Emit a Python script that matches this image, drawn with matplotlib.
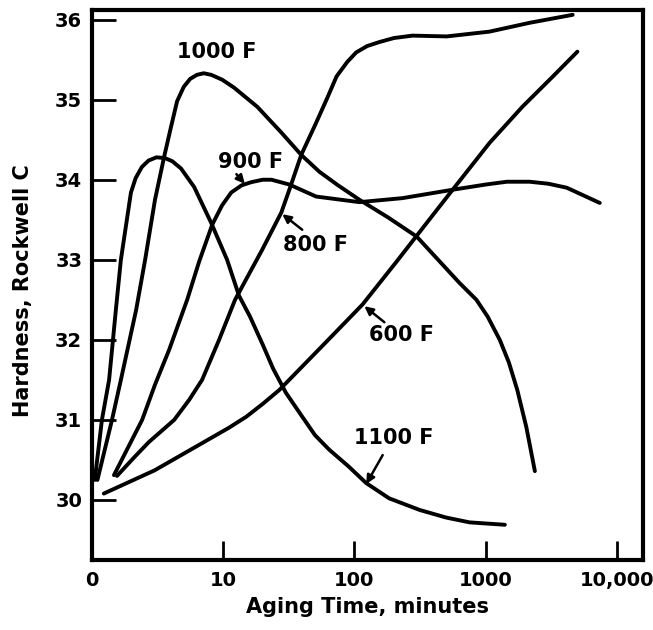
import matplotlib
matplotlib.use("Agg")
import matplotlib.pyplot as plt

# aging time (minutes) and hardness (Rockwell C)
t_1100 = [1.05, 1.19, 1.35, 1.52, 1.66, 1.98, 2.15, 2.4, 2.7, 3.1, 3.6, 4.1, 4.77, 6.0, 8.1, 10.7,
          13.2, 16, 20, 24, 30, 40, 50, 64, 90, 123, 184, 314, 500, 754, 1400]
h_1100 = [30.25, 31.0, 31.5, 32.375, 33.0, 33.84, 34.02, 34.16, 34.24, 34.28, 34.27, 34.23, 34.14, 33.91, 33.46, 33.0,
          32.55, 32.29, 31.94, 31.64, 31.34, 31.04, 30.81, 30.63, 30.42, 30.21, 30.02, 29.875, 29.78, 29.72, 29.69]

t_1000 = [1.1, 1.42, 1.66, 2.17, 2.54, 3.02, 3.55, 4.0, 4.45, 5.0, 5.6, 6.3, 7.1, 8.1, 9.8, 12.1, 18.2, 27.7,
          39.3, 54, 75, 109, 180, 298, 632, 850, 1035, 1280, 1500, 1740, 2040, 2370]
h_1000 = [30.25, 31.0, 31.5, 32.375, 33.0, 33.75, 34.29, 34.66, 34.98, 35.16, 35.26, 35.31, 35.33, 35.31, 35.25, 35.15,
          34.91, 34.59, 34.31, 34.1, 33.93, 33.75, 33.53, 33.29, 32.71, 32.5, 32.29, 32.0, 31.72, 31.375, 30.91, 30.36]

t_900 = [1.47, 2.41, 3.02, 3.87, 5.31, 6.56, 8.25, 9.8, 11.5, 13.8, 16.4, 20, 23.3, 31.9, 51, 109, 232, 560,
         1000, 1450, 2160, 3000, 4150, 7400]
h_900 = [30.31, 31.0, 31.44, 31.875, 32.5, 32.98, 33.44, 33.68, 33.84, 33.93, 33.97, 34.0, 34.0, 33.94, 33.79, 33.72,
         33.77, 33.875, 33.94, 33.975, 33.975, 33.95, 33.9, 33.71]

t_800 = [1.55, 2.09, 2.72, 4.23, 5.5, 6.9, 9.3, 12.3, 19.8, 27.7, 31.9, 39.3, 51, 62, 73, 88, 103, 125, 155, 200,
         277, 505, 1070, 2160, 4600]
h_800 = [30.3, 30.53, 30.725, 31.0, 31.25, 31.5, 32.0, 32.5, 33.125, 33.59, 33.875, 34.31, 34.71, 35.02, 35.29, 35.47,
         35.59, 35.67, 35.72, 35.77, 35.8, 35.79, 35.85, 35.96, 36.06]

t_600 = [1.23, 3.0, 8.2, 11, 15, 20, 26.8, 61, 115, 210, 298, 560, 1070, 1900, 3250, 5000]
h_600 = [30.08, 30.37, 30.78, 30.9, 31.04, 31.2, 31.375, 31.975, 32.44, 32.98, 33.3, 33.875, 34.46, 34.91, 35.29, 35.6]

x_ticks = [1, 10, 100, 1000, 10000]
x_tick_labels = ["0", "10", "100", "1000", "10,000"]
y_ticks = [30, 31, 32, 33, 34, 35, 36]

# label text, text position, arrow tail, arrow tip
labels = [
    ("1000 F", (9.0, 35.59), None, None),
    ("900 F", (16.1, 34.22), (12.6, 34.07), (14.6, 33.95)),
    ("800 F", (50.4, 33.19), (40, 33.375), (28.2, 33.57)),
    ("600 F", (228, 32.06), (169, 32.22), (119, 32.42)),
    ("1100 F", (198, 30.78), (164, 30.56), (123, 30.2)),
]

fig = plt.figure(figsize=(6.53, 6.30), dpi=100)
ax = fig.add_axes([92 / 653, 70 / 630, 551 / 653, 550 / 630])

lw = 2.8
for t, h in [(t_1100, h_1100), (t_1000, h_1000), (t_900, h_900), (t_800, h_800), (t_600, h_600)]:
    ax.plot(t, h, color="black", lw=lw, solid_capstyle="round", solid_joinstyle="round")

for text, pos, tail, tip in labels:
    ax.text(pos[0], pos[1], text, ha="center", va="center", fontsize=15,
            fontweight="bold", family="DejaVu Sans")
    if tail is not None:
        ax.annotate("", xy=tip, xytext=tail,
                    arrowprops=dict(arrowstyle="-|>,head_length=0.5,head_width=0.25",
                                    color="black", lw=1.8, shrinkA=0, shrinkB=0))

ax.set_xscale("log")
ax.set_xlim(1, 15800)
ax.set_ylim(29.25, 36.12)
ax.set_xticks(x_ticks)
ax.set_xticklabels(x_tick_labels)
ax.set_yticks(y_ticks)
ax.minorticks_off()
ax.tick_params(axis="both", direction="in", width=2, labelsize=14, colors="black")
ax.tick_params(axis="y", length=17, pad=7)
ax.tick_params(axis="x", length=14, pad=8)
for lab in ax.get_xticklabels() + ax.get_yticklabels():
    lab.set_fontweight("bold")

for sp in ax.spines.values():
    sp.set_linewidth(3.0)

ax.set_xlabel("Aging Time, minutes", fontsize=15, fontweight="bold")
ax.set_ylabel("Hardness, Rockwell C", fontsize=15, fontweight="bold")
ax.xaxis.set_label_coords(0.5, -0.068)
ax.yaxis.set_label_coords(-0.107, 0.49)

fig.savefig("out.png", dpi=100)
